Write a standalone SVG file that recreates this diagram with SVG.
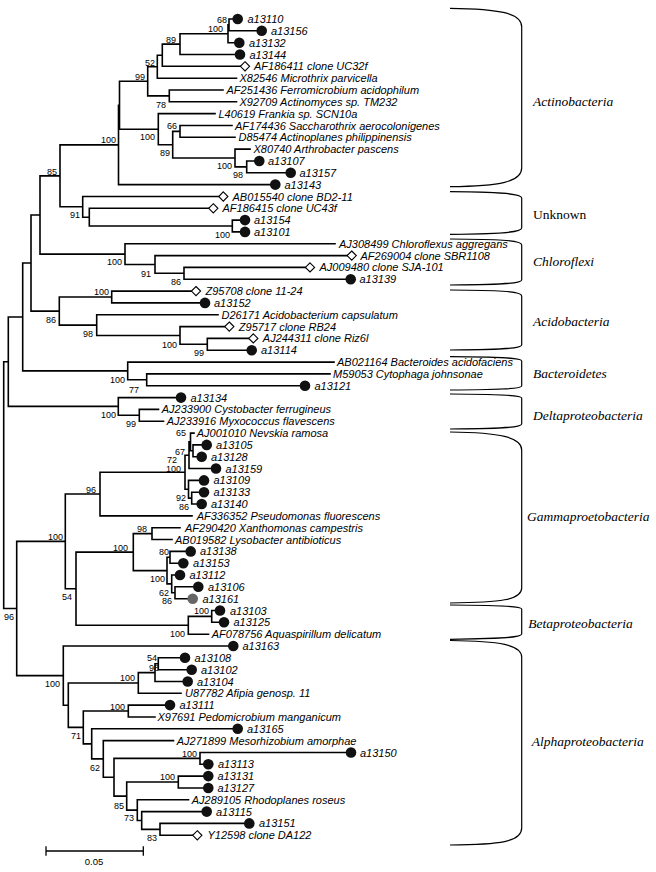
<svg xmlns="http://www.w3.org/2000/svg" xmlns:xlink="http://www.w3.org/1999/xlink" width="656" height="872" viewBox="0 0 656 872">
<style>
.br{stroke:#000;stroke-width:1.6;fill:none;stroke-linecap:square}
.bk{stroke:#000;stroke-width:1.2;fill:none}
.lf{font-family:"Liberation Sans",Arial,sans-serif;font-style:italic;font-size:11px;fill:#000}
.bs{font-family:"Liberation Sans",Arial,sans-serif;font-size:9px;fill:#000;text-anchor:end}
.cl{font-family:"Liberation Serif","Times New Roman",serif;font-style:italic;font-size:13.5px;fill:#000}
.up{font-style:normal}
.dot{fill:#111}
.gdot{fill:#666}
.dia{fill:#fff;stroke:#000;stroke-width:1.1}
.sc{font-family:"Liberation Sans",Arial,sans-serif;font-size:9.5px;fill:#000;text-anchor:middle}
</style>
<defs>
<polygon id="dm" class="dia" points="0,-4.6 4.6,0 0,4.6 -4.6,0"/>
</defs>
<rect width="656" height="872" fill="#fff"/>
<g id="connectors">
<path class="br" d="M229 19V30.8 M229 19H237.7 M229 30.8H261.7
M228 24.9V42.7 M228 42.7H239.3
M180 33.8V54.5 M180 33.8H228 M180 54.5H240
M162.3 44.1V66.3 M162.3 44.1H180 M162.3 66.3H240.4
M157.3 55.2V78.2 M157.3 55.2H162.3 M157.3 78.2H236.5
M169.3 90V101.8 M169.3 90H223 M169.3 101.8H236.5
M147.7 66.7V95.9 M147.7 66.7H157.3 M147.7 95.9H169.3
M180 125.5V137.3 M180 125.5H232 M180 137.3H235
M246.7 161V172.8 M246.7 161H259.3 M246.7 172.8H290.7
M235 149.1V166.9 M235 149.1H250 M235 166.9H246.7
M172.7 131.4V158 M172.7 131.4H180 M172.7 158H235
M158.3 113.6V144.7 M158.3 113.6H215 M158.3 144.7H172.7
M119.5 81.3V129.2 M119.5 81.3H147.7 M119.5 129.2H158.3
M118.5 105.2V184.6 M118.5 184.6H275.3
M232.3 220.1V231.9 M232.3 220.1H245 M232.3 231.9H245
M89.3 208.3V226 M89.3 208.3H208.7 M89.3 226H232.3
M82.7 196.5V217.2 M82.7 196.5H218.7 M82.7 217.2H89.3
M60 144.9V206.8 M60 144.9H118.5 M60 206.8H82.7
M184 267.4V279.3 M184 267.4H305.4 M184 279.3H350.7
M155 255.6V273.3 M155 255.6H347.1 M155 273.3H184
M125 243.8V264.5 M125 243.8H335 M125 264.5H155
M40 175.9V254.1 M40 175.9H60 M40 254.1H125
M111.7 291.1V302.9 M111.7 291.1H191.4 M111.7 302.9H205
M207.3 338.4V350.2 M207.3 338.4H248.7 M207.3 350.2H251.7
M180 326.6V344.3 M180 326.6H224.7 M180 344.3H207.3
M96.7 314.8V335.5 M96.7 314.8H218 M96.7 335.5H180
M59.3 297V325.1 M59.3 297H111.7 M59.3 325.1H96.7
M31 215V311.1 M31 215H40 M31 311.1H59.3
M146.7 373.9V385.7 M146.7 373.9H330 M146.7 385.7H305
M127.7 362.1V379.8 M127.7 362.1H334 M127.7 379.8H146.7
M22.7 263V370.9 M22.7 263H31 M22.7 370.9H127.7
M139.3 409.4V421.2 M139.3 409.4H158.5 M139.3 421.2H163.5
M118.3 397.6V415.3 M118.3 397.6H181 M118.3 415.3H139.3
M8.3 317V406.4 M8.3 317H22.7 M8.3 406.4H118.3
M193 444.9V456.7 M193 444.9H206.7 M193 456.7H201.7
M190.5 433.1V450.8 M190.5 433.1H194 M190.5 450.8H193
M189 441.9V468.5 M189 441.9H190.5 M189 468.5H216
M191.7 492.2V504 M191.7 492.2H204 M191.7 504H201.7
M188.5 480.4V498.1 M188.5 480.4H204 M188.5 498.1H191.7
M185 455.2V489.2 M185 455.2H189 M185 489.2H188.5
M100 472.2V515.9 M100 472.2H185 M100 515.9H192
M152 527.7V539.5 M152 527.7H180 M152 539.5H172
M170 551.4V563.2 M170 551.4H190.7 M170 563.2H183.3
M175 586.8V598.7 M175 586.8H198.3 M175 598.7H192.7
M171.7 575V592.7 M171.7 575H180 M171.7 592.7H175
M167 557.3V583.9 M167 557.3H170 M167 583.9H171.7
M133.3 533.6V570.6 M133.3 533.6H152 M133.3 570.6H167
M211.7 610.5V622.3 M211.7 610.5H220 M211.7 622.3H224
M188.3 616.4V634.2 M188.3 616.4H211.7 M188.3 634.2H208.5
M76 552.1V625.3 M76 552.1H133.3 M76 625.3H188.3
M65.3 494V588.7 M65.3 494H100 M65.3 588.7H76
M158.3 657.8V669.7 M158.3 657.8H185 M158.3 669.7H191.7
M155 663.7V681.5 M155 663.7H158.3 M155 681.5H187.7
M138.3 672.6V693.3 M138.3 672.6H155 M138.3 693.3H181
M128.3 705.1V717 M128.3 705.1H170 M128.3 717H155
M200 752.5V764.3 M200 752.5H351 M200 764.3H208.3
M178.3 776.1V788 M178.3 776.1H208.3 M178.3 788H208.3
M160 823.4V835.3 M160 823.4H249.3 M160 835.3H192.7
M141.7 811.6V829.4 M141.7 811.6H206.7 M141.7 829.4H160
M137.3 799.8V820.5 M137.3 799.8H188.5 M137.3 820.5H141.7
M126.7 782V810.1 M126.7 782H178.3 M126.7 810.1H137.3
M114 758.4V796.1 M114 758.4H200 M114 796.1H126.7
M103.3 740.6V777.2 M103.3 740.6H173.5 M103.3 777.2H114
M91.7 728.8V758.9 M91.7 728.8H237.7 M91.7 758.9H103.3
M83.3 711V743.9 M83.3 711H128.3 M83.3 743.9H91.7
M68.3 683V727.4 M68.3 683H138.3 M68.3 727.4H83.3
M63.3 646V705.2 M63.3 646H233.3 M63.3 705.2H68.3
M16.7 541.4V675.6 M16.7 541.4H65.3 M16.7 675.6H63.3
M3.7 361.7V608.5 M3.7 361.7H8.3 M3.7 608.5H16.7"/>
</g>
<g id="leaves">
<g id="leaf-a13110"><circle class="dot" cx="237.7" cy="19" r="5.3"/><text class="lf" x="247.5" y="23">a13110</text></g>
<g id="leaf-a13156"><circle class="dot" cx="261.7" cy="30.8" r="5.3"/><text class="lf" x="271" y="34.8">a13156</text></g>
<g id="leaf-a13132"><circle class="dot" cx="239.3" cy="42.7" r="5.3"/><text class="lf" x="249" y="46.7">a13132</text></g>
<g id="leaf-a13144"><circle class="dot" cx="240" cy="54.5" r="5.3"/><text class="lf" x="249.5" y="58.5">a13144</text></g>
<g id="leaf-AF186411"><use xlink:href="#dm" x="245" y="66.3"/><text class="lf" x="254" y="70.3">AF186411 clone UC32f</text></g>
<g id="leaf-X82546"><text class="lf" x="239.5" y="82.2">X82546 Microthrix parvicella</text></g>
<g id="leaf-AF251436"><text class="lf" x="226.5" y="94">AF251436 Ferromicrobium acidophilum</text></g>
<g id="leaf-X92709"><text class="lf" x="239.5" y="105.8">X92709 Actinomyces sp. TM232</text></g>
<g id="leaf-L40619"><text class="lf" x="218.5" y="117.6">L40619 Frankia sp. SCN10a</text></g>
<g id="leaf-AF174436"><text class="lf" x="235" y="129.5">AF174436 Saccharothrix aerocolonigenes</text></g>
<g id="leaf-D85474"><text class="lf" x="238.5" y="141.3">D85474 Actinoplanes philippinensis</text></g>
<g id="leaf-X80740"><text class="lf" x="253.5" y="153.1">X80740 Arthrobacter pascens</text></g>
<g id="leaf-a13107"><circle class="dot" cx="259.3" cy="161" r="5.3"/><text class="lf" x="268" y="165">a13107</text></g>
<g id="leaf-a13157"><circle class="dot" cx="290.7" cy="172.8" r="5.3"/><text class="lf" x="299.5" y="176.8">a13157</text></g>
<g id="leaf-a13143"><circle class="dot" cx="275.3" cy="184.6" r="5.3"/><text class="lf" x="284.5" y="188.6">a13143</text></g>
<g id="leaf-AB015540"><use xlink:href="#dm" x="223.3" y="196.5"/><text class="lf" x="232.5" y="200.5">AB015540 clone BD2-11</text></g>
<g id="leaf-AF186415"><use xlink:href="#dm" x="213.3" y="208.3"/><text class="lf" x="222.5" y="212.3">AF186415 clone UC43f</text></g>
<g id="leaf-a13154"><circle class="dot" cx="245" cy="220.1" r="5.3"/><text class="lf" x="254" y="224.1">a13154</text></g>
<g id="leaf-a13101"><circle class="dot" cx="245" cy="231.9" r="5.3"/><text class="lf" x="254" y="235.9">a13101</text></g>
<g id="leaf-AJ308499"><text class="lf" x="339" y="247.8">AJ308499 Chloroflexus aggregans</text></g>
<g id="leaf-AF269004"><use xlink:href="#dm" x="351.7" y="255.6"/><text class="lf" x="360.5" y="259.6">AF269004 clone SBR1108</text></g>
<g id="leaf-AJ009480"><use xlink:href="#dm" x="310" y="267.4"/><text class="lf" x="319.5" y="271.4">AJ009480 clone SJA-101</text></g>
<g id="leaf-a13139"><circle class="dot" cx="350.7" cy="279.3" r="5.3"/><text class="lf" x="359.5" y="283.3">a13139</text></g>
<g id="leaf-Z95708"><use xlink:href="#dm" x="196" y="291.1"/><text class="lf" x="205.5" y="295.1">Z95708 clone 11-24</text></g>
<g id="leaf-a13152"><circle class="dot" cx="205" cy="302.9" r="5.3"/><text class="lf" x="214" y="306.9">a13152</text></g>
<g id="leaf-D26171"><text class="lf" x="221.5" y="318.8">D26171 Acidobacterium capsulatum</text></g>
<g id="leaf-Z95717"><use xlink:href="#dm" x="229.3" y="326.6"/><text class="lf" x="238.8" y="330.6">Z95717 clone RB24</text></g>
<g id="leaf-AJ244311"><use xlink:href="#dm" x="253.3" y="338.4"/><text class="lf" x="262.8" y="342.4">AJ244311 clone Riz6l</text></g>
<g id="leaf-a13114"><circle class="dot" cx="251.7" cy="350.2" r="5.3"/><text class="lf" x="261" y="354.2">a13114</text></g>
<g id="leaf-AB021164"><text class="lf" x="337" y="366.1">AB021164 Bacteroides acidofaciens</text></g>
<g id="leaf-M59053"><text class="lf" x="333" y="377.9">M59053 Cytophaga johnsonae</text></g>
<g id="leaf-a13121"><circle class="dot" cx="305" cy="385.7" r="5.3"/><text class="lf" x="314.5" y="389.7">a13121</text></g>
<g id="leaf-a13134"><circle class="dot" cx="181" cy="397.6" r="5.3"/><text class="lf" x="190.5" y="401.6">a13134</text></g>
<g id="leaf-AJ233900"><text class="lf" x="161.7" y="413.4">AJ233900 Cystobacter ferrugineus</text></g>
<g id="leaf-AJ233916"><text class="lf" x="166.7" y="425.2">AJ233916 Myxococcus flavescens</text></g>
<g id="leaf-AJ001010"><text class="lf" x="196.7" y="437.1">AJ001010 Nevskia ramosa</text></g>
<g id="leaf-a13105"><circle class="dot" cx="206.7" cy="444.9" r="5.3"/><text class="lf" x="216" y="448.9">a13105</text></g>
<g id="leaf-a13128"><circle class="dot" cx="201.7" cy="456.7" r="5.3"/><text class="lf" x="211" y="460.7">a13128</text></g>
<g id="leaf-a13159"><circle class="dot" cx="216" cy="468.5" r="5.3"/><text class="lf" x="225.5" y="472.5">a13159</text></g>
<g id="leaf-a13109"><circle class="dot" cx="204" cy="480.4" r="5.3"/><text class="lf" x="213.5" y="484.4">a13109</text></g>
<g id="leaf-a13133"><circle class="dot" cx="204" cy="492.2" r="5.3"/><text class="lf" x="213.5" y="496.2">a13133</text></g>
<g id="leaf-a13140"><circle class="dot" cx="201.7" cy="504" r="5.3"/><text class="lf" x="211" y="508">a13140</text></g>
<g id="leaf-AF336352"><text class="lf" x="196.7" y="519.9">AF336352 Pseudomonas fluorescens</text></g>
<g id="leaf-AF290420"><text class="lf" x="185" y="531.7">AF290420 Xanthomonas campestris</text></g>
<g id="leaf-AB019582"><text class="lf" x="175" y="543.5">AB019582 Lysobacter antibioticus</text></g>
<g id="leaf-a13138"><circle class="dot" cx="190.7" cy="551.4" r="5.3"/><text class="lf" x="200" y="555.4">a13138</text></g>
<g id="leaf-a13153"><circle class="dot" cx="183.3" cy="563.2" r="5.3"/><text class="lf" x="193" y="567.2">a13153</text></g>
<g id="leaf-a13112"><circle class="dot" cx="180" cy="575" r="5.3"/><text class="lf" x="189.5" y="579">a13112</text></g>
<g id="leaf-a13106"><circle class="dot" cx="198.3" cy="586.8" r="5.3"/><text class="lf" x="208" y="590.8">a13106</text></g>
<g id="leaf-a13161"><circle class="gdot" cx="192.7" cy="598.7" r="5.3"/><text class="lf" x="202.5" y="602.7">a13161</text></g>
<g id="leaf-a13103"><circle class="dot" cx="220" cy="610.5" r="5.3"/><text class="lf" x="230" y="614.5">a13103</text></g>
<g id="leaf-a13125"><circle class="dot" cx="224" cy="622.3" r="5.3"/><text class="lf" x="233.5" y="626.3">a13125</text></g>
<g id="leaf-AF078756"><text class="lf" x="211.7" y="638.2">AF078756 Aquaspirillum delicatum</text></g>
<g id="leaf-a13163"><circle class="dot" cx="233.3" cy="646" r="5.3"/><text class="lf" x="242.5" y="650">a13163</text></g>
<g id="leaf-a13108"><circle class="dot" cx="185" cy="657.8" r="5.3"/><text class="lf" x="194.5" y="661.8">a13108</text></g>
<g id="leaf-a13102"><circle class="dot" cx="191.7" cy="669.7" r="5.3"/><text class="lf" x="201" y="673.7">a13102</text></g>
<g id="leaf-a13104"><circle class="dot" cx="187.7" cy="681.5" r="5.3"/><text class="lf" x="197" y="685.5">a13104</text></g>
<g id="leaf-U87782"><text class="lf" x="185" y="697.3">U87782 Afipia genosp. 11</text></g>
<g id="leaf-a13111"><circle class="dot" cx="170" cy="705.1" r="5.3"/><text class="lf" x="179.5" y="709.1">a13111</text></g>
<g id="leaf-X97691"><text class="lf" x="157.5" y="721">X97691 Pedomicrobium manganicum</text></g>
<g id="leaf-a13165"><circle class="dot" cx="237.7" cy="728.8" r="5.3"/><text class="lf" x="247" y="732.8">a13165</text></g>
<g id="leaf-AJ271899"><text class="lf" x="176.7" y="744.6">AJ271899 Mesorhizobium amorphae</text></g>
<g id="leaf-a13150"><circle class="dot" cx="351" cy="752.5" r="5.3"/><text class="lf" x="360" y="756.5">a13150</text></g>
<g id="leaf-a13113"><circle class="dot" cx="208.3" cy="764.3" r="5.3"/><text class="lf" x="218" y="768.3">a13113</text></g>
<g id="leaf-a13131"><circle class="dot" cx="208.3" cy="776.1" r="5.3"/><text class="lf" x="217.5" y="780.1">a13131</text></g>
<g id="leaf-a13127"><circle class="dot" cx="208.3" cy="788" r="5.3"/><text class="lf" x="217.5" y="792">a13127</text></g>
<g id="leaf-AJ289105"><text class="lf" x="191.7" y="803.8">AJ289105 Rhodoplanes roseus</text></g>
<g id="leaf-a13115"><circle class="dot" cx="206.7" cy="811.6" r="5.3"/><text class="lf" x="216" y="815.6">a13115</text></g>
<g id="leaf-a13151"><circle class="dot" cx="249.3" cy="823.4" r="5.3"/><text class="lf" x="259" y="827.4">a13151</text></g>
<g id="leaf-Y12598"><use xlink:href="#dm" x="197.3" y="835.3"/><text class="lf" x="207.5" y="839.3">Y12598 clone DA122</text></g>
</g>
<g id="bootstrap">
<text class="bs" x="227" y="22.5">68</text>
<text class="bs" x="223" y="31.5">100</text>
<text class="bs" x="176" y="42.5">89</text>
<text class="bs" x="155" y="65.5">52</text>
<text class="bs" x="145" y="79.5">99</text>
<text class="bs" x="166" y="107.5">78</text>
<text class="bs" x="177" y="129">66</text>
<text class="bs" x="155" y="140">100</text>
<text class="bs" x="116" y="142.5">100</text>
<text class="bs" x="170" y="156">89</text>
<text class="bs" x="232" y="169">100</text>
<text class="bs" x="243" y="178">98</text>
<text class="bs" x="57" y="174.5">85</text>
<text class="bs" x="80" y="218">91</text>
<text class="bs" x="230" y="238">100</text>
<text class="bs" x="122" y="265">100</text>
<text class="bs" x="151" y="277">91</text>
<text class="bs" x="181" y="284.5">86</text>
<text class="bs" x="109" y="294.5">100</text>
<text class="bs" x="56" y="323">86</text>
<text class="bs" x="93" y="337">98</text>
<text class="bs" x="177" y="347.5">100</text>
<text class="bs" x="204" y="356">99</text>
<text class="bs" x="125" y="383">100</text>
<text class="bs" x="139" y="392.5">77</text>
<text class="bs" x="116" y="418">100</text>
<text class="bs" x="136" y="427">99</text>
<text class="bs" x="186" y="436">65</text>
<text class="bs" x="185" y="454.5">67</text>
<text class="bs" x="177" y="463">72</text>
<text class="bs" x="181" y="472">100</text>
<text class="bs" x="186" y="500.5">92</text>
<text class="bs" x="189" y="509.5">86</text>
<text class="bs" x="96" y="492.5">96</text>
<text class="bs" x="147" y="531.5">98</text>
<text class="bs" x="63" y="540">100</text>
<text class="bs" x="128" y="551">100</text>
<text class="bs" x="169" y="555">80</text>
<text class="bs" x="165" y="582">100</text>
<text class="bs" x="169" y="595.5">62</text>
<text class="bs" x="172" y="604">86</text>
<text class="bs" x="72" y="600">54</text>
<text class="bs" x="14" y="620">96</text>
<text class="bs" x="209" y="614">100</text>
<text class="bs" x="185" y="637">100</text>
<text class="bs" x="157" y="661">54</text>
<text class="bs" x="159" y="670.5">98</text>
<text class="bs" x="135" y="681">100</text>
<text class="bs" x="60" y="687">100</text>
<text class="bs" x="125" y="709.5">100</text>
<text class="bs" x="81" y="738.5">71</text>
<text class="bs" x="100" y="771">62</text>
<text class="bs" x="197" y="757">100</text>
<text class="bs" x="175" y="780">100</text>
<text class="bs" x="124" y="808.5">85</text>
<text class="bs" x="134" y="821">73</text>
<text class="bs" x="157" y="841">83</text>
</g>
<g id="groups">
<g id="grp-actinobacteria"><path class="bk" d="M450 8.3C500 9 521.7 13 521.7 27V168C521.7 182 500 186 450 186.7"/><text class="cl" x="533" y="106">Actinobacteria</text></g>
<g id="grp-unknown"><path class="bk" d="M450 191.7C495 192 521.7 193 521.7 198V228C521.7 233 495 234 450 234.3"/><text class="cl up" x="533" y="219">Unknown</text></g>
<g id="grp-chloroflexi"><path class="bk" d="M450 239C495 239.3 521.7 240 521.7 245V280C521.7 284 495 284.7 450 285"/><text class="cl" x="533" y="266">Chloroflexi</text></g>
<g id="grp-acidobacteria"><path class="bk" d="M450 290C495 290.3 521.7 291 521.7 296V345C521.7 349 495 349.7 450 350"/><text class="cl" x="533" y="326">Acidobacteria</text></g>
<g id="grp-bacteroidetes"><path class="bk" d="M450 356.7C495 357 521.7 357.5 521.7 361V386C521.7 389 495 389.7 450 390"/><text class="cl" x="533" y="378">Bacteroidetes</text></g>
<g id="grp-delta"><path class="bk" d="M450 394C495 394.3 521.7 395 521.7 398V424C521.7 428 495 428.7 450 429"/><text class="cl" x="533" y="419.5">Deltaproteobacteria</text></g>
<g id="grp-gamma"><path class="bk" d="M450 432C500 432.7 521.7 437 521.7 450V588C521.7 600 500 602.4 450 603"/><text class="cl" x="527" y="521">Gammaproetobacteria</text></g>
<g id="grp-beta"><path class="bk" d="M450 605C495 605.3 521.7 606 521.7 609V634C521.7 638 495 638.7 450 639.3"/><text class="cl" x="528.3" y="628">Betaproteobacteria</text></g>
<g id="grp-alpha"><path class="bk" d="M450 640.5C500 641 521.7 645 521.7 657V828C521.7 842 500 844.5 450 845"/><text class="cl" x="531.7" y="746">Alphaproteobacteria</text></g>
</g>
<g id="scalebar">
<path class="br" style="stroke-width:1.3" d="M46 851H143.3 M46 847V855 M143.3 847V855"/>
<text class="sc" x="94" y="865">0.05</text>
</g>
</svg>
